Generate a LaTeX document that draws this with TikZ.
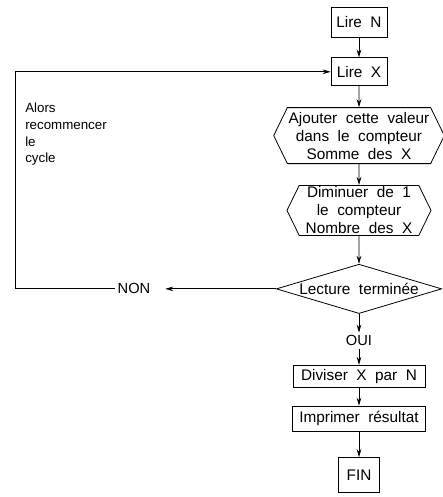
\documentclass[tikz,border=0pt]{standalone}
\usepackage{fontspec}
\setmainfont{Liberation Sans}[WordSpace=2]
\usetikzlibrary{arrows.meta, positioning, shapes.geometric, shapes.symbols}

\begin{document}
\begin{tikzpicture}[x=0.75pt, y=-0.75pt,
  every node/.style={font=\fontsize{11.5}{13.5}\selectfont},
  procbox/.style={rectangle, draw, line width=0.6pt,
                  inner xsep=3pt, inner ysep=1pt},
  hexbox/.style={signal, signal to=west and east, signal pointer angle=128,
                 draw, line width=0.6pt, align=center,
                 inner xsep=1pt, inner ysep=1pt},
  testbox/.style={diamond, draw, line width=0.6pt, inner sep=0pt},
  flow/.style={-{Stealth[length=6pt, width=3.5pt]}, line width=0.6pt},
  note/.style={font=\fontsize{10}{12.5}\selectfont, align=left, inner sep=0pt},
  answer/.style={font=\fontsize{11}{13}\selectfont, inner sep=2pt}
]
\useasboundingbox (0,0) rectangle (443,497);

%% --- main column ---
\node[procbox, minimum width=42pt, minimum height=22.5pt] (lireN) at (359,22) {Lire N};
\node[procbox, minimum width=42pt, minimum height=21pt, below=15pt of lireN] (lireX) {Lire X};
\node[hexbox, minimum width=127.5pt, minimum height=42pt, below=15.75pt of lireX] (ajout)
    {Ajouter cette valeur\\dans le compteur\\Somme des X};
\node[hexbox, minimum width=108pt, minimum height=37.5pt, below=15.75pt of ajout] (dimin)
    {Diminuer de 1\\le compteur\\Nombre des X};
\node[testbox, minimum width=124pt, minimum height=37pt, below=21pt of dimin,
      label=center:{Lecture terminée}] (test) {};

%% --- OUI branch ---
\node[answer, below=14pt of test] (oui) {OUI};
\node[procbox, minimum width=99pt, minimum height=16.5pt, below=12pt of oui] (divis) {Diviser X par N};
\node[procbox, minimum width=100pt, minimum height=19pt, below=13.5pt of divis] (imprim) {Imprimer résultat};
\node[procbox, minimum width=31pt, minimum height=26pt, below=19pt of imprim] (fin) {FIN};

%% --- NON branch (loop back) ---
\node[answer, left=92pt of test] (non) {NON};
\coordinate (loop) at (15,0);
\node[note, anchor=north west] (cycle) at (25,103)
    {Alors\\recommencer\\le\\cycle};

%% --- connectors ---
\draw[flow] (lireN) -- (lireX);
\draw[flow] (lireX) -- (ajout);
\draw[flow] (ajout) -- (dimin);
\draw[flow] (dimin) -- (test);
\draw[flow] (test) -- (oui);
\draw[flow] (oui) -- (divis);
\draw[flow] (divis) -- (imprim);
\draw[flow] (imprim) -- (fin);

\draw[flow, shorten >=9pt] (test.west) -- (non.east);
\draw[flow] (non.west) -- (non.west -| loop) |- (lireX.west);

\end{tikzpicture}
\end{document}
